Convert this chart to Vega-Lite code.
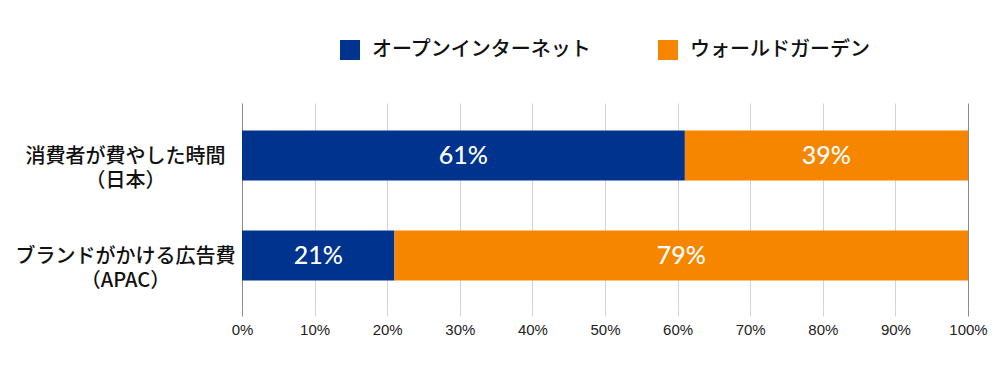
{
  "$schema": "https://vega.github.io/schema/vega-lite/v6.json",
  "autosize": {"type": "none"},
  "padding": {"left": 242, "top": 103, "right": 32, "bottom": 59},
  "width": 726,
  "height": 205,
  "background": "white",
  "config": {
    "view": {"stroke": null},
    "font": "Noto Sans CJK JP"
  },
  "data": {
    "values": [
      {"label": "消費者が費やした時間\n（日本）", "series": "オープンインターネット", "k": 1, "value": 0.61},
      {"label": "消費者が費やした時間\n（日本）", "series": "ウォールドガーデン", "k": 2, "value": 0.39},
      {"label": "ブランドがかける広告費\n（APAC）", "series": "オープンインターネット", "k": 1, "value": 0.21},
      {"label": "ブランドがかける広告費\n（APAC）", "series": "ウォールドガーデン", "k": 2, "value": 0.79}
    ]
  },
  "encoding": {
    "y": {
      "field": "label", "type": "nominal", "sort": null,
      "scale": {"paddingInner": 0.5, "paddingOuter": 0.275},
      "axis": {
        "title": null, "domain": false, "ticks": false,
        "labelExpr": "split(datum.label, '\\n')",
        "labelAlign": "center", "labelPadding": 117, "labelLimit": 400,
        "labelFont": "Noto Sans CJK JP", "labelFontSize": 20, "labelFontWeight": 500,
        "labelColor": "#111", "labelLineHeight": 24, "labelBaseline": "middle", "labelOffset": 1
      }
    }
  },
  "layer": [
    {
      "mark": {"type": "bar"},
      "encoding": {
        "x": {
          "field": "value", "type": "quantitative", "stack": "zero",
          "scale": {"domain": [0, 1], "nice": false},
          "axis": {
            "title": null, "format": ".0%", "values": [0, 0.1, 0.2, 0.3, 0.4, 0.5, 0.6, 0.7, 0.8, 0.9, 1],
            "domain": false,
            "grid": true,
            "gridColor": {"condition": {"test": "datum.value === 0 || datum.value === 1", "value": "#8a8a8a"}, "value": "#d4d4d4"},
            "gridWidth": 1,
            "tickColor": {"condition": {"test": "datum.value === 0 || datum.value === 1", "value": "#8a8a8a"}, "value": "#d4d4d4"},
            "tickSize": 8,
            "labelPadding": 6,
            "labelFlush": false,
            "labelFont": "Liberation Sans Narrow, Liberation Sans",
            "labelFontSize": 15, "labelColor": "#222"
          }
        },
        "color": {
          "field": "series", "type": "nominal",
          "scale": {"domain": ["オープンインターネット", "ウォールドガーデン"], "range": ["#00338D", "#F68600"]},
          "legend": {
            "title": null, "orient": "none", "direction": "horizontal",
            "legendX": 98, "legendY": -63, "padding": 0,
            "symbolType": "square", "symbolSize": 400, "symbolStrokeWidth": 0,
            "labelFont": "Noto Sans CJK JP", "labelFontSize": 20, "labelFontWeight": 500,
            "labelColor": "#111", "labelOffset": 12, "columnPadding": 66,
            "labelLimit": 400
          }
        },
        "order": {"field": "k", "type": "quantitative"}
      }
    },
    {
      "mark": {"type": "text", "color": "white", "font": "Lato", "fontSize": 25, "fontWeight": 500, "baseline": "middle", "align": "center"},
      "encoding": {
        "x": {"field": "value", "type": "quantitative", "stack": "zero", "bandPosition": 0.5},
        "detail": {"field": "series"},
        "order": {"field": "k", "type": "quantitative"},
        "text": {"field": "value", "type": "quantitative", "format": ".0%"}
      }
    }
  ]
}
